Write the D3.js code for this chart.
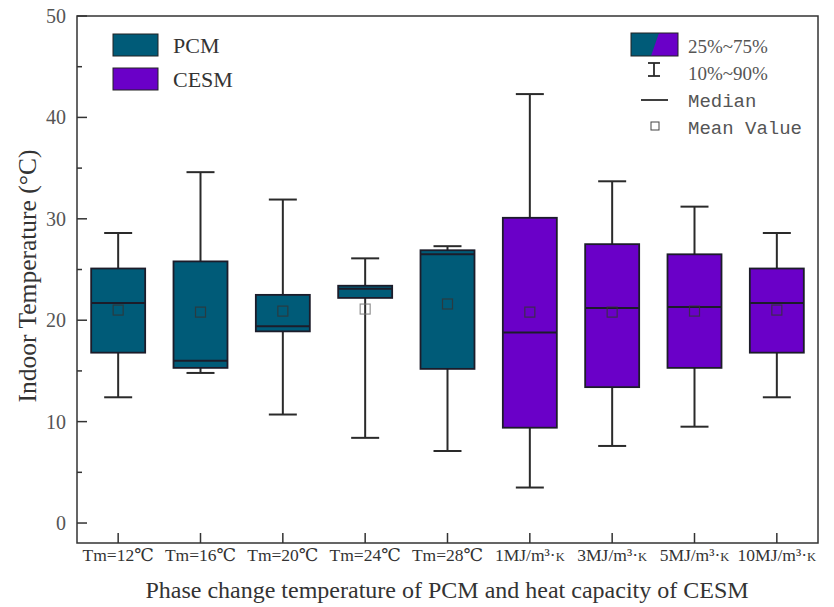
<!DOCTYPE html>
<html>
<head>
<meta charset="utf-8">
<script src="https://cdn.jsdelivr.net/npm/d3@7/dist/d3.min.js"></script>
<style>
  body { margin: 0; background: #fff; }
  text { font-family: "Liberation Serif", "DejaVu Serif", serif; }
</style>
</head>
<body>
<div id="chart-area"></div>
<script>
// categories and groups
const categories = ["Tm=12℃", "Tm=16℃", "Tm=20℃", "Tm=24℃", "Tm=28℃",
  "1MJ/m³·", "3MJ/m³·", "5MJ/m³·", "10MJ/m³·"]
const groups = ["PCM", "PCM", "PCM", "PCM", "PCM", "CESM", "CESM", "CESM", "CESM"]

// box statistics (°C)
const p10 = [12.4, 14.8, 10.7, 8.4, 7.1, 3.5, 7.6, 9.5, 12.4]
const q1 = [16.8, 15.3, 18.9, 22.2, 15.2, 9.4, 13.4, 15.3, 16.8]
const median = [21.7, 16.0, 19.4, 23.1, 26.5, 18.8, 21.2, 21.3, 21.7]
const q3 = [25.1, 25.8, 22.5, 23.4, 26.9, 30.1, 27.5, 26.5, 25.1]
const p90 = [28.6, 34.6, 31.9, 26.1, 27.3, 42.3, 33.7, 31.2, 28.6]
const mean = [21.0, 20.8, 20.9, 21.1, 21.6, 20.8, 20.8, 20.9, 21.0]

const yTicks = [0, 10, 20, 30, 40, 50]
const yMinor = [5, 15, 25, 35, 45]

const colors = { PCM: "#005b78", CESM: "#6a00c8" }

const data = categories.map((c, i) => ({
  cat: c, group: groups[i], p10: p10[i], q1: q1[i], median: median[i],
  q3: q3[i], p90: p90[i], mean: mean[i]
}))

const W = 834, H = 607
const mLeft = 77, mRight = 818, mTop = 16, mBottom = 543

const svg = d3.select("#chart-area").append("svg")
  .attr("width", W)
  .attr("height", H)

const x = d3.scalePoint().domain(categories).range([mLeft, mRight]).padding(0.5)
const y = d3.scaleLinear().domain([-1.97, 50]).range([mBottom, mTop])

const boxW = 54, capW = 28
const ink = "#2a2a2a"

// frame
svg.append("rect")
  .attr("x", mLeft).attr("y", mTop)
  .attr("width", mRight - mLeft).attr("height", mBottom - mTop)
  .attr("fill", "none").attr("stroke", "#333").attr("stroke-width", 1.5)

// y axis ticks (inward)
svg.selectAll(".ymaj").data(yTicks).enter().append("line")
  .attr("x1", mLeft).attr("x2", mLeft + 10)
  .attr("y1", d => y(d)).attr("y2", d => y(d))
  .attr("stroke", "#333").attr("stroke-width", 1.5)
svg.selectAll(".ymin").data(yMinor).enter().append("line")
  .attr("x1", mLeft).attr("x2", mLeft + 5)
  .attr("y1", d => y(d)).attr("y2", d => y(d))
  .attr("stroke", "#333").attr("stroke-width", 1.5)
svg.selectAll(".ylab").data(yTicks).enter().append("text")
  .attr("x", mLeft - 11).attr("y", d => y(d) + 7)
  .attr("text-anchor", "end")
  .attr("font-size", 20).attr("fill", "#555")
  .text(d => d)

// x axis ticks (inward)
svg.selectAll(".xt").data(categories).enter().append("line")
  .attr("x1", d => x(d)).attr("x2", d => x(d))
  .attr("y1", mBottom).attr("y2", mBottom - 10)
  .attr("stroke", "#333").attr("stroke-width", 1.5)

const xl = svg.selectAll(".xlab").data(categories).enter().append("text")
  .attr("x", d => x(d)).attr("y", 561)
  .attr("text-anchor", "middle")
  .attr("font-size", 17.5).attr("fill", "#333")
xl.append("tspan").text(d => d)
xl.filter((d, i) => groups[i] === "CESM").append("tspan")
  .attr("font-size", 12.5).text("K")

// axis titles
svg.append("text")
  .attr("transform", "translate(36,276) rotate(-90)")
  .attr("text-anchor", "middle")
  .attr("font-size", 25.5).attr("fill", "#333")
  .text("Indoor Temperature (°C)")
svg.append("text")
  .attr("x", 447).attr("y", 598)
  .attr("text-anchor", "middle")
  .attr("font-size", 24).attr("fill", "#333")
  .text("Phase change temperature of PCM and heat capacity of CESM")

// boxes
const g = svg.selectAll(".box").data(data).enter().append("g")

g.append("line") // whisker
  .attr("x1", d => x(d.cat)).attr("x2", d => x(d.cat))
  .attr("y1", d => y(d.p90)).attr("y2", d => y(d.p10))
  .attr("stroke", ink).attr("stroke-width", 2)
g.append("line")
  .attr("x1", d => x(d.cat) - capW / 2).attr("x2", d => x(d.cat) + capW / 2)
  .attr("y1", d => y(d.p90)).attr("y2", d => y(d.p90))
  .attr("stroke", ink).attr("stroke-width", 2)
g.append("line")
  .attr("x1", d => x(d.cat) - capW / 2).attr("x2", d => x(d.cat) + capW / 2)
  .attr("y1", d => y(d.p10)).attr("y2", d => y(d.p10))
  .attr("stroke", ink).attr("stroke-width", 2)
g.append("rect")
  .attr("x", d => x(d.cat) - boxW / 2).attr("width", boxW)
  .attr("y", d => y(d.q3)).attr("height", d => y(d.q1) - y(d.q3))
  .attr("fill", d => colors[d.group])
  .attr("stroke", "#1c1c2a").attr("stroke-width", 1.8)
g.append("line")
  .attr("x1", d => x(d.cat) - boxW / 2).attr("x2", d => x(d.cat) + boxW / 2)
  .attr("y1", d => y(d.median)).attr("y2", d => y(d.median))
  .attr("stroke", "#1c1c2a").attr("stroke-width", 2)
g.append("rect")
  .attr("x", d => x(d.cat) - 5).attr("y", d => y(d.mean) - 5)
  .attr("width", 10).attr("height", 10)
  .attr("fill", "none")
  .attr("stroke", d => (d.mean > d.q3 || d.mean < d.q1) ? "#777" : "#333")
  .attr("stroke-opacity", 0.8).attr("stroke-width", 1.2)

// left legend
const legL = svg.append("g")
legL.selectAll("rect").data(["PCM", "CESM"]).enter().append("rect")
  .attr("x", 113).attr("y", (d, i) => 34 + i * 34)
  .attr("width", 45).attr("height", 22)
  .attr("fill", d => colors[d]).attr("stroke", "#222").attr("stroke-width", 1)
legL.selectAll("text").data(["PCM", "CESM"]).enter().append("text")
  .attr("x", 173).attr("y", (d, i) => 53 + i * 34)
  .attr("font-size", 22).attr("fill", "#333")
  .text(d => d)

// right legend
const legR = svg.append("g")
legR.append("rect").attr("x", 631).attr("y", 33).attr("width", 47).attr("height", 23)
  .attr("fill", colors.CESM)
legR.append("path").attr("d", "M631,33 L659,33 L651,56 L631,56 Z")
  .attr("fill", colors.PCM)
legR.append("rect").attr("x", 631).attr("y", 33).attr("width", 47).attr("height", 23)
  .attr("fill", "none").attr("stroke", "#222").attr("stroke-width", 1)
legR.append("line").attr("x1", 654).attr("x2", 654).attr("y1", 63).attr("y2", 76)
  .attr("stroke", ink).attr("stroke-width", 1.8)
legR.append("line").attr("x1", 648).attr("x2", 660).attr("y1", 63).attr("y2", 63)
  .attr("stroke", ink).attr("stroke-width", 1.8)
legR.append("line").attr("x1", 648).attr("x2", 660).attr("y1", 76).attr("y2", 76)
  .attr("stroke", ink).attr("stroke-width", 1.8)
legR.append("line").attr("x1", 641).attr("x2", 668).attr("y1", 100).attr("y2", 100)
  .attr("stroke", ink).attr("stroke-width", 1.8)
legR.append("rect").attr("x", 651).attr("y", 122).attr("width", 8).attr("height", 8)
  .attr("fill", "none").attr("stroke", "#444").attr("stroke-width", 1)

const legTexts = ["25%~75%", "10%~90%", "Median", "Mean Value"]
legR.selectAll("text").data(legTexts).enter().append("text")
  .attr("x", 688).attr("y", (d, i) => 53 + i * 27)
  .attr("font-size", 19).attr("fill", "#555")
  .style("font-family", (d, i) => i < 2 ? "Liberation Serif, serif" : "Liberation Mono, monospace")
  .text(d => d)
</script>
</body>
</html>
